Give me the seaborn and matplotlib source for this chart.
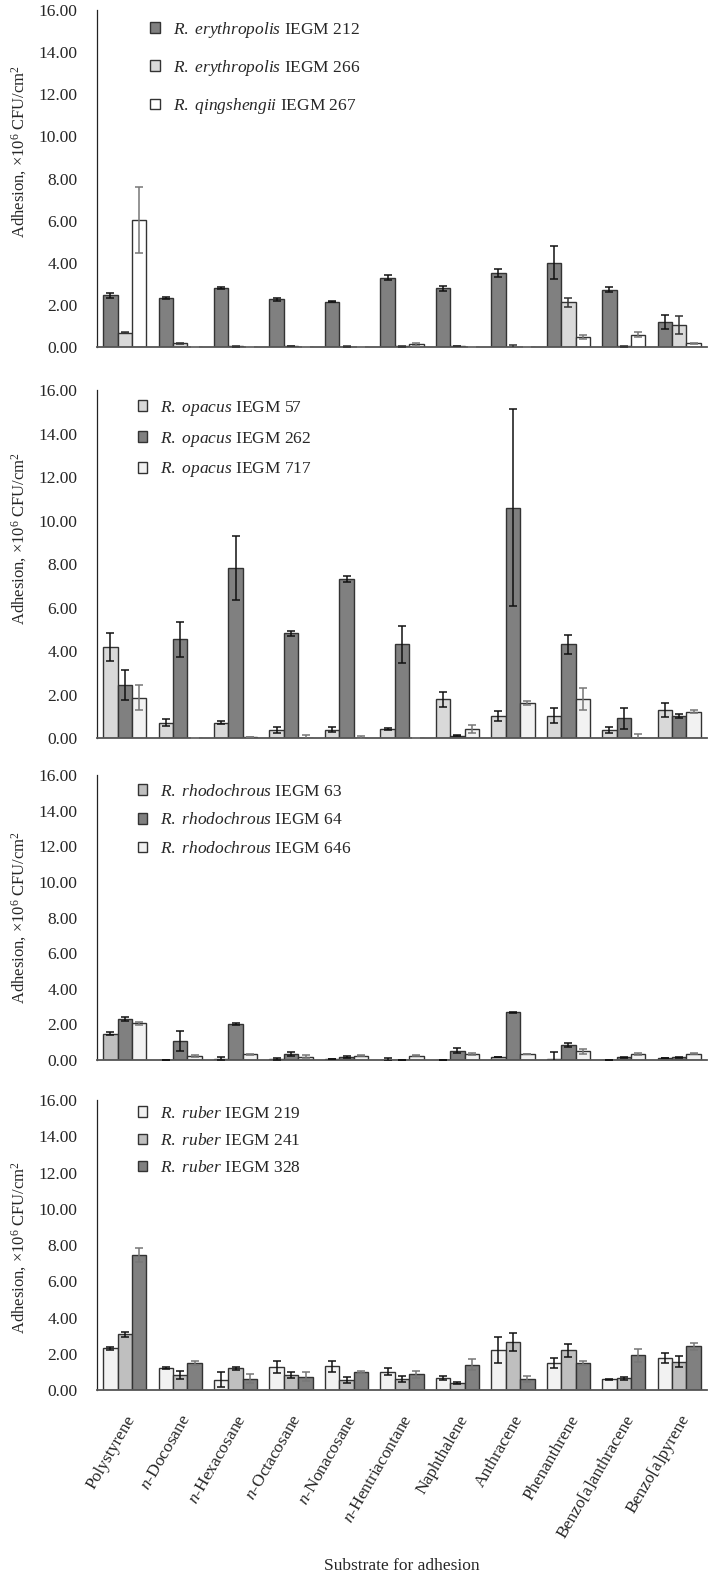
import numpy as np
import pandas as pd
import matplotlib
matplotlib.use("Agg")
import matplotlib.pyplot as plt
import seaborn as sns

# substrates on the x axis
substrates = ["Polystyrene", r"$\it{n}$-Docosane", r"$\it{n}$-Hexacosane", r"$\it{n}$-Octacosane",
              r"$\it{n}$-Nonacosane", r"$\it{n}$-Hentriacontane", "Naphthalene", "Anthracene",
              "Phenanthrene", "Benzo[a]anthracene", "Benzo[a]pyrene"]

# panel 1: R. erythropolis / R. qingshengii
ery212 = [2.45, 2.33, 2.80, 2.27, 2.16, 3.30, 2.80, 3.52, 4.01, 2.71, 1.19]
ery212_err = [0.13, 0.03, 0.05, 0.08, 0.03, 0.12, 0.12, 0.20, 0.80, 0.12, 0.32]
ery266 = [0.68, 0.17, 0.03, 0.05, 0.02, 0.03, 0.05, 0.00, 2.12, 0.03, 1.03]
ery266_err = [0.03, 0.04, 0.01, 0.01, 0.01, 0.01, 0.01, 0.10, 0.20, 0.01, 0.43]
qin267 = [6.02, 0.02, 0.02, 0.02, 0.02, 0.12, 0.02, 0.02, 0.48, 0.59, 0.18]
qin267_err = [1.57, 0.0, 0.0, 0.0, 0.0, 0.05, 0.0, 0.0, 0.10, 0.12, 0.03]

# panel 2: R. opacus
opa57 = [4.20, 0.71, 0.71, 0.38, 0.38, 0.41, 1.78, 1.02, 1.02, 0.38, 1.29]
opa57_err = [0.65, 0.15, 0.08, 0.15, 0.12, 0.05, 0.33, 0.22, 0.35, 0.15, 0.33]
opa262 = [2.43, 4.54, 7.81, 4.81, 7.31, 4.31, 0.10, 10.60, 4.31, 0.90, 1.02]
opa262_err = [0.68, 0.80, 1.47, 0.13, 0.12, 0.85, 0.02, 4.55, 0.45, 0.50, 0.08]
opa717 = [1.85, 0.02, 0.03, 0.00, 0.02, 0.02, 0.41, 1.60, 1.80, 0.00, 1.21]
opa717_err = [0.58, 0.0, 0.0, 0.15, 0.07, 0.0, 0.20, 0.10, 0.50, 0.18, 0.06]

# panel 3: R. rhodochrous
rho63 = [1.49, 0.03, 0.08, 0.04, 0.05, 0.03, 0.03, 0.15, 0.05, 0.03, 0.09]
rho63_err = [0.07, 0.0, 0.10, 0.05, 0.0, 0.07, 0.0, 0.0, 0.40, 0.0, 0.0]
rho64 = [2.29, 1.05, 2.00, 0.34, 0.17, 0.00, 0.53, 2.67, 0.86, 0.15, 0.15]
rho64_err = [0.12, 0.57, 0.06, 0.12, 0.08, 0.0, 0.15, 0.02, 0.12, 0.03, 0.03]
rho646 = [2.06, 0.21, 0.32, 0.19, 0.23, 0.25, 0.34, 0.34, 0.48, 0.34, 0.36]
rho646_err = [0.10, 0.05, 0.03, 0.10, 0.03, 0.02, 0.07, 0.02, 0.15, 0.07, 0.02]

# panel 4: R. ruber
rub219 = [2.30, 1.21, 0.57, 1.27, 1.30, 1.01, 0.68, 2.20, 1.51, 0.59, 1.76]
rub219_err = [0.10, 0.07, 0.40, 0.33, 0.30, 0.20, 0.10, 0.70, 0.27, 0.03, 0.28]
rub241 = [3.07, 0.83, 1.19, 0.83, 0.55, 0.63, 0.39, 2.67, 2.20, 0.64, 1.56]
rub241_err = [0.15, 0.20, 0.10, 0.15, 0.15, 0.17, 0.03, 0.50, 0.35, 0.10, 0.30]
rub328 = [7.46, 1.49, 0.63, 0.74, 0.99, 0.86, 1.40, 0.61, 1.51, 1.91, 2.41]
rub328_err = [0.40, 0.12, 0.25, 0.25, 0.05, 0.20, 0.30, 0.15, 0.12, 0.37, 0.20]

panels = [
    {"names": [r"$\it{R.\ erythropolis}$ IEGM 212", r"$\it{R.\ erythropolis}$ IEGM 266",
               r"$\it{R.\ qingshengii}$ IEGM 267"],
     "values": [ery212, ery266, qin267], "errors": [ery212_err, ery266_err, qin267_err],
     "colors": ["#808080", "#d9d9d9", "#ffffff"], "ecolors": ["#111111", "#333333", "#777777"],
     "rect": [0.137, 0.7794, 0.8616, 0.2142], "leg": (0.087, 0.972, 1.05), "ylab_y": 0.58},
    {"names": [r"$\it{R.\ opacus}$ IEGM 57", r"$\it{R.\ opacus}$ IEGM 262", r"$\it{R.\ opacus}$ IEGM 717"],
     "values": [opa57, opa262, opa717], "errors": [opa57_err, opa262_err, opa717_err],
     "colors": ["#d9d9d9", "#808080", "#f2f2f2"], "ecolors": ["#111111", "#111111", "#777777"],
     "rect": [0.137, 0.5308, 0.8616, 0.2212], "leg": (0.067, 0.975, 0.68), "ylab_y": 0.575},
    {"names": [r"$\it{R.\ rhodochrous}$ IEGM 63", r"$\it{R.\ rhodochrous}$ IEGM 64",
               r"$\it{R.\ rhodochrous}$ IEGM 646"],
     "values": [rho63, rho64, rho646], "errors": [rho63_err, rho64_err, rho646_err],
     "colors": ["#bfbfbf", "#808080", "#f2f2f2"], "ecolors": ["#111111", "#111111", "#777777"],
     "rect": [0.137, 0.3261, 0.8616, 0.1812], "leg": (0.067, 0.97, 0.74), "ylab_y": 0.5},
    {"names": [r"$\it{R.\ ruber}$ IEGM 219", r"$\it{R.\ ruber}$ IEGM 241", r"$\it{R.\ ruber}$ IEGM 328"],
     "values": [rub219, rub241, rub328], "errors": [rub219_err, rub241_err, rub328_err],
     "colors": ["#f2f2f2", "#bfbfbf", "#808080"], "ecolors": ["#111111", "#111111", "#777777"],
     "rect": [0.137, 0.1163, 0.8616, 0.1844], "leg": (0.067, 0.98, 0.64), "ylab_y": 0.49},
]

sns.set_theme(style="white")
plt.rcParams["font.family"] = ["Liberation Serif", "DejaVu Serif"]
plt.rcParams["mathtext.fontset"] = "custom"
plt.rcParams["mathtext.rm"] = "Liberation Serif"
plt.rcParams["mathtext.it"] = "Liberation Serif:italic"
plt.rcParams["mathtext.bf"] = "Liberation Serif:bold"

fs = 12.5
fig = plt.figure(figsize=(7.08, 15.73), dpi=100)

for k, p in enumerate(panels):
    ax = fig.add_axes(p["rect"])
    rows = []
    for name, vals in zip(p["names"], p["values"]):
        for sub, v in zip(substrates, vals):
            rows.append({"substrate": sub, "strain": name, "value": v})
    df = pd.DataFrame(rows)

    sns.barplot(data=df, x="substrate", y="value", hue="strain", order=substrates,
                hue_order=p["names"], palette=dict(zip(p["names"], p["colors"])),
                width=0.78, errorbar=None, edgecolor="#333333", linewidth=1.0,
                saturation=1, ax=ax)

    # error bars placed on the bars seaborn drew
    for cont, errs, ec in zip(ax.containers, p["errors"], p["ecolors"]):
        xs = [b.get_x() + b.get_width() / 2 for b in cont]
        hs = [b.get_height() for b in cont]
        ax.errorbar(xs, hs, yerr=errs, fmt="none", ecolor=ec, elinewidth=1.1,
                    capsize=3, capthick=1.1, zorder=5)

    ax.set_ylim(0, 16)
    ax.set_xlim(-0.5, 10.5)
    ax.set_yticks(np.arange(0, 17, 2))
    ax.set_yticklabels([f"{t:.2f}" for t in np.arange(0, 17, 2)], fontsize=fs)
    ax.tick_params(axis="both", length=0)
    ax.tick_params(axis="y", pad=14)
    sns.despine(ax=ax)
    ax.spines["left"].set_color("#222222")
    ax.spines["left"].set_linewidth(0.9)
    ax.spines["bottom"].set_color("#555555")
    ax.spines["bottom"].set_linewidth(1.3)

    ax.set_ylabel("Adhesion, ×10$^{6}$ CFU/cm$^{2}$", fontsize=12)
    ax.yaxis.set_label_coords(-0.112, p["ylab_y"])

    lx, ly, lsp = p["leg"]
    handles, labels = ax.get_legend_handles_labels()
    ax.legend(handles, labels, loc="upper left", bbox_to_anchor=(lx, ly), frameon=False,
              fontsize=fs, handlelength=0.55, handleheight=0.55, handletextpad=0.75,
              labelspacing=lsp, borderpad=0, borderaxespad=0)

    if k < 3:
        ax.set_xticklabels([])
        ax.set_xlabel("")
    else:
        ax.set_xticks(range(len(substrates)))
        ax.set_xticklabels(substrates, rotation=60, ha="right", rotation_mode="anchor",
                           fontsize=fs)
        ax.tick_params(axis="x", pad=16)
        ax.set_xlabel("Substrate for adhesion", fontsize=fs)
        ax.xaxis.set_label_coords(0.5, -0.58)

fig.savefig("out.png", dpi=100)
